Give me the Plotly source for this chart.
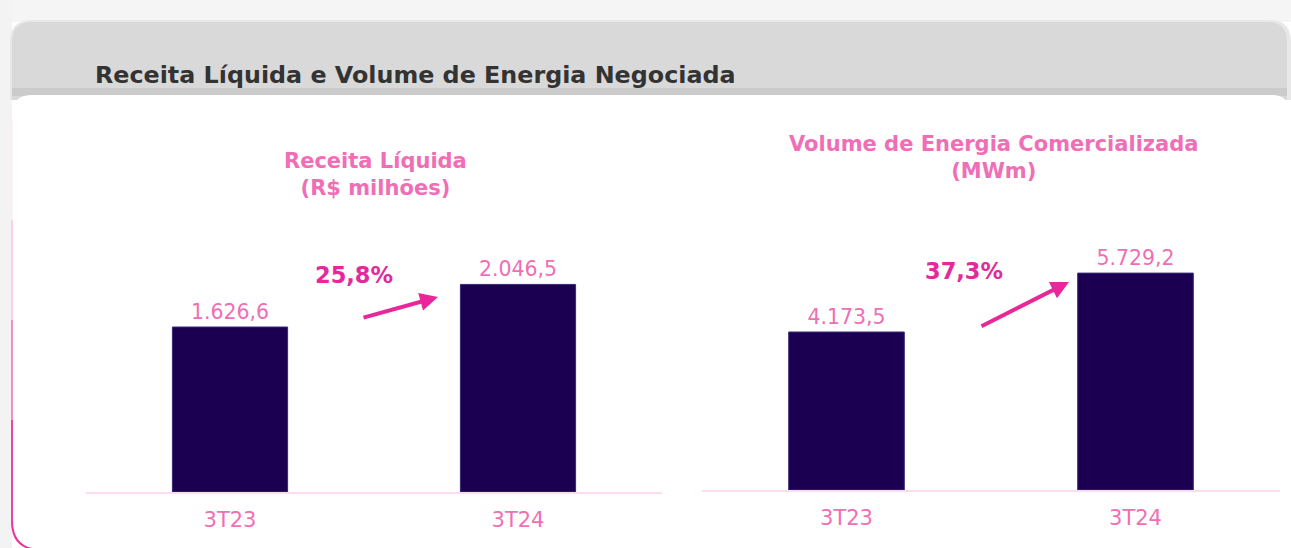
import plotly.graph_objects as go

# ---- data ----
categories = ["3T23", "3T24"]
receita_values = [1626.6, 2046.5]
volume_values = [4173.5, 5729.2]
main_title = "Receita Líquida e Volume de Energia Negociada"
receita_title = "Receita Líquida<br>(R$ milhões)"
volume_title = "Volume de Energia Comercializada<br>(MWm)"

W, H = 1291, 548


def px(x):
    return x / W


def py(y):
    return 1 - y / H


def br(v):
    s = f"{v:,.1f}"
    return s.replace(",", "X").replace(".", ",").replace("X", ".")


def pct(a, b):
    return br((b / a - 1) * 100) + "%"


PINK = "#f06eb5"
HOTPINK = "#e6289a"
BAR = "#1b0052"
FONT = "DejaVu Sans"

fig = go.Figure()
fig.add_trace(go.Bar(
    x=categories, y=receita_values, xaxis="x", yaxis="y",
    marker=dict(color=BAR, line=dict(color="#3a2a78", width=1)),
    width=0.4, text=[br(v) for v in receita_values], textposition="outside",
    textfont=dict(family=FONT, size=20.5, color=PINK), cliponaxis=False,
    hoverinfo="skip",
))
fig.add_trace(go.Bar(
    x=categories, y=volume_values, xaxis="x2", yaxis="y2",
    marker=dict(color=BAR, line=dict(color="#3a2a78", width=1)),
    width=0.4, text=[br(v) for v in volume_values], textposition="outside",
    textfont=dict(family=FONT, size=20.5, color=PINK), cliponaxis=False,
    hoverinfo="skip",
))

# axis geometry (pixels)
L_x0, L_x1, L_base = 86, 662, 492
R_x0, R_x1, R_base = 702, 1280, 490
top_px = 200
L_scale = 165 / receita_values[0]
R_scale = 158 / volume_values[0]

xcommon = dict(showline=True, linecolor="#fcdcee", linewidth=2, showgrid=False,
               zeroline=False, ticks="outside", ticklen=8, tickcolor="rgba(0,0,0,0)",
               tickfont=dict(family=FONT, size=21, color=PINK), range=[-0.5, 1.5],
               fixedrange=True)
fig.update_layout(
    xaxis=dict(domain=[px(L_x0), px(L_x1)], anchor="y", **xcommon),
    xaxis2=dict(domain=[px(R_x0), px(R_x1)], anchor="y2", **xcommon),
    yaxis=dict(domain=[py(L_base), py(top_px)], range=[0, (L_base - top_px) / L_scale],
               visible=False, showgrid=False, zeroline=False),
    yaxis2=dict(domain=[py(R_base), py(top_px)], range=[0, (R_base - top_px) / R_scale],
                visible=False, showgrid=False, zeroline=False, anchor="x2"),
)

# ---- decorative background shapes ----
shapes = []
shapes.append(dict(type="rect", xref="paper", yref="paper", x0=0, x1=1, y0=py(22), y1=1,
                   fillcolor="#f5f5f5", line=dict(width=0), layer="below"))
shapes.append(dict(type="rect", xref="paper", yref="paper", x0=0, x1=px(12), y0=0, y1=1,
                   fillcolor="#f3f3f3", line=dict(width=0), layer="below"))
g = (f"M {px(10)},{py(100)} L {px(10)},{py(42)} Q {px(10)},{py(20)} {px(32)},{py(20)} "
     f"L {px(1270)},{py(20)} Q {px(1291)},{py(20)} {px(1291)},{py(42)} L {px(1291)},{py(100)} Z")
shapes.append(dict(type="path", xref="paper", yref="paper", path=g,
                   fillcolor="#e8e8e8", line=dict(width=0), layer="below"))
g2 = (f"M {px(12)},{py(100)} L {px(12)},{py(42)} Q {px(12)},{py(22)} {px(32)},{py(22)} "
      f"L {px(1268)},{py(22)} Q {px(1287)},{py(22)} {px(1287)},{py(42)} L {px(1287)},{py(100)} Z")
shapes.append(dict(type="path", xref="paper", yref="paper", path=g2,
                   fillcolor="#d9d9d9", line=dict(width=0), layer="below"))
shapes.append(dict(type="rect", xref="paper", yref="paper", x0=px(12), x1=px(1287),
                   y0=py(96), y1=py(88), fillcolor="#cbcbcb", line=dict(width=0), layer="below"))
c = (f"M {px(12)},{py(560)} L {px(12)},{py(115)} Q {px(12)},{py(95)} {px(32)},{py(95)} "
     f"L {px(1272)},{py(95)} Q {px(1289)},{py(95)} {px(1289)},{py(112)} L {px(1289)},{py(560)} Z")
shapes.append(dict(type="path", xref="paper", yref="paper", path=c,
                   fillcolor="#ffffff", line=dict(width=0), layer="below"))
segs = [(120, 220, "#fdf0f7"), (220, 320, "#f9d0e6"), (320, 420, "#f38dc6"), (420, 522, "#ea45a4")]
for y0, y1, col in segs:
    shapes.append(dict(type="line", xref="paper", yref="paper", x0=px(12), x1=px(12),
                       y0=py(y0), y1=py(y1), line=dict(color=col, width=2), layer="below"))
b = f"M {px(12)},{py(521)} Q {px(12)},{py(550)} {px(42)},{py(550)}"
shapes.append(dict(type="path", xref="paper", yref="paper", path=b,
                   line=dict(color="#e8359f", width=2), layer="below"))
fig.update_layout(shapes=shapes)

# ---- annotations ----
ann = []
ann.append(dict(text=f"<b>{main_title}</b>", x=px(93), y=py(75), xref="paper", yref="paper",
                xanchor="left", yanchor="middle", showarrow=False,
                font=dict(family=FONT, size=23.8, color="#333333")))
ann.append(dict(text=f"<b>{receita_title}</b>", x=px(375), y=py(175), xref="paper", yref="paper",
                xanchor="center", yanchor="middle", showarrow=False,
                font=dict(family=FONT, size=21, color=PINK)))
ann.append(dict(text=f"<b>{volume_title}</b>", x=px(993), y=py(158), xref="paper", yref="paper",
                xanchor="center", yanchor="middle", showarrow=False,
                font=dict(family=FONT, size=21, color=PINK)))
ann.append(dict(text=f"<b>{pct(*receita_values)}</b>", x=px(354), y=py(275), xref="paper",
                yref="paper", xanchor="center", yanchor="middle", showarrow=False,
                font=dict(family=FONT, size=22.5, color=HOTPINK)))
ann.append(dict(text=f"<b>{pct(*volume_values)}</b>", x=px(964), y=py(271), xref="paper",
                yref="paper", xanchor="center", yanchor="middle", showarrow=False,
                font=dict(family=FONT, size=22.5, color=HOTPINK)))
ann.append(dict(text="", x=px(438), y=py(297), xref="paper", yref="paper",
                ax=-76, ay=21, showarrow=True, arrowhead=2, arrowsize=0.9,
                arrowwidth=4, arrowcolor="#e8289a", standoff=0))
ann.append(dict(text="", x=px(1069), y=py(282), xref="paper", yref="paper",
                ax=-89, ay=45, showarrow=True, arrowhead=2, arrowsize=0.9,
                arrowwidth=4, arrowcolor="#e8289a", standoff=0))
fig.update_layout(annotations=ann)

fig.update_layout(
    width=W, height=H, margin=dict(l=0, r=0, t=0, b=0),
    paper_bgcolor="#ffffff", plot_bgcolor="rgba(0,0,0,0)",
    showlegend=False, bargap=0.6, font=dict(family=FONT),
)

fig.write_html("out.html", config={"displayModeBar": False},
               post_script="document.body.style.margin='0';document.body.style.overflow='hidden';")
